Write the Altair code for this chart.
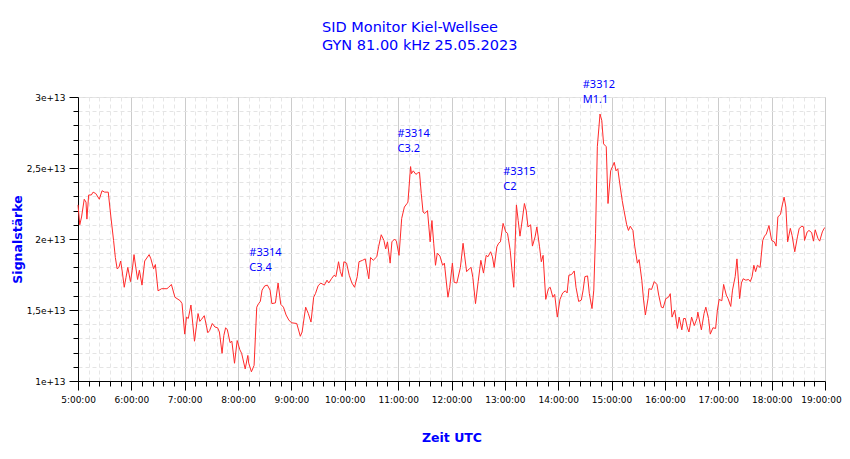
import altair as alt
import pandas as pd

# minutes after 05:00 UTC
minutes = [
    0, 2, 4, 7, 9, 10, 12, 15, 17, 20,
    24, 27, 30, 34, 37, 40, 42, 44, 46, 48,
    50, 52, 54, 56, 59, 61, 63, 65, 67, 69,
    72, 75, 80, 82, 85, 87, 90, 94, 100, 102,
    105, 109, 115, 117, 120, 122, 124, 127, 131, 135,
    137, 139, 142, 146, 148, 151, 154, 157, 159, 162,
    164, 166, 168, 171, 173, 176, 179, 182, 184, 188,
    191, 192, 195, 198, 201, 203, 205, 207, 210, 213,
    216, 218, 222, 225, 228, 231, 234, 237, 240, 246,
    250, 252, 256, 259, 262, 265, 267, 270, 273, 277,
    280, 282, 285, 288, 290, 293, 295, 297, 299, 302,
    305, 308, 311, 314, 316, 320, 323, 327, 329, 332,
    336, 338, 341, 344, 346, 348, 351, 353, 356, 358,
    361, 364, 367, 370, 371, 374, 375, 377, 380, 382,
    384, 386, 388, 390, 393, 396, 398, 400, 402, 404,
    407, 410, 412, 416, 418, 421, 423, 426, 430, 433,
    437, 440, 442, 444, 447, 450, 453, 456, 459, 461,
    464, 466, 468, 471, 473, 475, 478, 481, 483, 486,
    488, 490, 493, 495, 497, 500, 502, 504, 506, 509,
    511, 514, 516, 519, 521, 523, 526, 529, 531, 534,
    536, 539, 542, 545, 548, 550, 552, 555, 558, 560,
    563, 566, 568, 570, 573, 575, 578, 580, 582, 584,
    587, 589, 591, 594, 596, 599, 601, 603, 605, 607,
    609, 612, 614, 617, 619, 621, 624, 626, 629, 631,
    634, 636, 638, 641, 642, 645, 648, 651, 653, 656,
    658, 661, 664, 666, 668, 671, 674, 676, 679, 681,
    683, 685, 687, 690, 693, 696, 697, 701, 704, 706,
    709, 711, 714, 717, 719, 721, 724, 726, 729, 731,
    734, 736, 739, 741, 744, 746, 748, 751, 754, 756,
    758, 760, 762, 764, 767, 770, 772, 774, 777, 780,
    783, 785, 787, 790, 792, 794, 796, 798, 801, 803,
    806, 809, 811, 814, 816, 817, 820, 822, 825, 827,
    829, 832, 834, 837, 839, 840,
]

# signal strength in units of 1e13
signal = [
    2.24, 2.10, 2.155, 2.28, 2.26, 2.14, 2.31, 2.31, 2.33, 2.32,
    2.28, 2.34, 2.33, 2.33, 2.155, 1.99, 1.87, 1.79, 1.80, 1.845,
    1.76, 1.66, 1.73, 1.80, 1.70, 1.78, 1.89, 1.80, 1.715, 1.78,
    1.675, 1.845, 1.89, 1.86, 1.79, 1.82, 1.635, 1.65, 1.65, 1.66,
    1.68, 1.59, 1.565, 1.545, 1.33, 1.45, 1.44, 1.535, 1.28, 1.475,
    1.42, 1.435, 1.46, 1.34, 1.355, 1.405, 1.38, 1.375, 1.345, 1.195,
    1.32, 1.375, 1.36, 1.27, 1.28, 1.125, 1.285, 1.22, 1.195, 1.085,
    1.18, 1.125, 1.065, 1.11, 1.52, 1.545, 1.56, 1.64, 1.67, 1.675,
    1.64, 1.545, 1.55, 1.69, 1.54, 1.52, 1.465, 1.43, 1.41, 1.405,
    1.315, 1.345, 1.52, 1.475, 1.415, 1.59, 1.615, 1.67, 1.69, 1.675,
    1.71, 1.69, 1.72, 1.745, 1.735, 1.84, 1.77, 1.735, 1.84, 1.83,
    1.745, 1.69, 1.66, 1.735, 1.84, 1.85, 1.86, 1.72, 1.87, 1.85,
    1.875, 1.945, 2.03, 1.99, 1.93, 1.98, 1.83, 1.98, 2.00, 1.985,
    1.885, 2.145, 2.225, 2.25, 2.26, 2.51, 2.46, 2.48, 2.455, 2.465,
    2.47, 2.32, 2.19, 2.18, 2.20, 1.98, 2.13, 1.97, 1.815, 1.90,
    1.88, 1.815, 1.83, 1.59, 1.66, 1.83, 1.695, 1.69, 1.80, 1.97,
    1.77, 1.79, 1.80, 1.73, 1.545, 1.70, 1.85, 1.76, 1.885, 1.875,
    1.91, 1.875, 1.80, 1.945, 1.97, 1.98, 2.11, 2.05, 2.04, 1.92,
    1.78, 1.66, 2.24, 2.13, 2.02, 2.155, 2.25, 2.20, 2.085, 2.10,
    1.95, 2.015, 2.085, 1.945, 1.84, 1.885, 1.575, 1.65, 1.66, 1.59,
    1.61, 1.45, 1.575, 1.62, 1.635, 1.62, 1.745, 1.75, 1.775, 1.66,
    1.56, 1.57, 1.64, 1.735, 1.74, 1.615, 1.51, 1.64, 2.04, 2.65,
    2.88, 2.835, 2.67, 2.65, 2.25, 2.48, 2.51, 2.54, 2.48, 2.495,
    2.40, 2.27, 2.20, 2.10, 2.06, 2.09, 2.06, 1.95, 1.83, 1.855,
    1.71, 1.57, 1.465, 1.58, 1.65, 1.645, 1.70, 1.68, 1.605, 1.52,
    1.515, 1.58, 1.59, 1.615, 1.45, 1.50, 1.37, 1.45, 1.36, 1.44,
    1.44, 1.38, 1.345, 1.45, 1.39, 1.44, 1.485, 1.36, 1.475, 1.52,
    1.44, 1.33, 1.375, 1.37, 1.50, 1.575, 1.565, 1.68, 1.605, 1.58,
    1.525, 1.64, 1.735, 1.86, 1.58, 1.69, 1.72, 1.71, 1.715, 1.70,
    1.735, 1.815, 1.77, 1.815, 1.80, 1.99, 2.02, 2.035, 2.095, 1.99,
    1.98, 1.95, 2.155, 2.175, 2.24, 2.295, 2.225, 1.98, 2.075, 2.025,
    1.91, 2.015, 2.075, 2.09, 2.085, 1.99, 2.05, 2.06, 2.045, 1.985,
    2.065, 2.005, 1.985, 2.05, 2.075, 2.08,
]
assert len(minutes) == len(signal)

# flare annotations
ann_hour = [8.21, 10.99, 12.97, 14.46]
ann_signal = [1.945, 2.78, 2.512, 3.125]
ann_label = ["#3314\nC3.4", "#3314\nC3.2", "#3315\nC2", "#3312\nM1.1"]

title_lines = ["SID Monitor Kiel-Wellsee", "GYN 81.00 kHz 25.05.2023"]
x_title = "Zeit UTC"
y_title = "Signalstärke"

df = pd.DataFrame({
    "hour": [5 + m / 60 for m in minutes],
    "signal": [v * 1e13 for v in signal],
})
ann = pd.DataFrame({
    "hour": ann_hour,
    "signal": [v * 1e13 for v in ann_signal],
    "label": ann_label,
})

x_ticks = [round(5 + i * 0.2, 4) for i in range(71)]
y_ticks = [1e13 + i * 1e12 for i in range(21)]

x_major = "abs(datum.value - round(datum.value)) < 0.001"
y_major = "abs(datum.value / 5e12 - round(datum.value / 5e12)) < 1e-6"

x_axis = alt.Axis(
    values=x_ticks,
    title=x_title,
    labelExpr=f"{x_major} ? round(datum.value) + ':00:00' : ''",
    labelOverlap=False,
    labelFlush=False,
    labelFont="DejaVu Sans",
    labelFontSize=9,
    labelColor="#000000",
    labelPadding=5,
    labelOffset={"condition": {"test": "datum.value > 18.9", "value": -4}, "value": 0},
    tickSize={"condition": {"test": x_major, "value": 9}, "value": 5},
    tickColor="#000000",
    domainColor="#000000",
    grid=True,
    gridColor={"condition": {"test": x_major, "value": "#cccccc"}, "value": "#e6e6e6"},
    gridDash={"condition": {"test": x_major, "value": []}, "value": [4, 3]},
    gridWidth=1,
    titleFont="DejaVu Sans",
    titleFontSize=12.5,
    titleFontWeight="bold",
    titleColor="#0000ff",
    titleBaseline="middle",
    titleY=56,
)

y_axis = alt.Axis(
    values=y_ticks,
    title=y_title,
    labelExpr=f"{y_major} ? replace(format(datum.value / 1e13, '.1~f'), '.', ',') + 'e+13' : ''",
    labelOverlap=False,
    labelFlush=False,
    labelFont="DejaVu Sans",
    labelFontSize=9,
    labelColor="#000000",
    labelPadding=4,
    tickSize={"condition": {"test": y_major, "value": 9}, "value": 5},
    tickColor="#000000",
    domainColor="#000000",
    grid=True,
    gridColor="#e4e4e4",
    gridDash=[4, 3],
    gridWidth=1,
    titleFont="DejaVu Sans",
    titleFontSize=12.5,
    titleFontWeight="bold",
    titleColor="#0000ff",
    titleAngle=270,
    titleAlign="center",
    titleBaseline="middle",
    titleX=-61,
    titleY=142,
)

x_scale = alt.Scale(domain=[5, 19], nice=False, zero=False)
y_scale = alt.Scale(domain=[1e13, 3e13], nice=False, zero=False)

x_enc = alt.X("hour:Q", scale=x_scale, axis=x_axis)
y_enc = alt.Y("signal:Q", scale=y_scale, axis=y_axis)

line = alt.Chart(df).mark_line(color="#ff2a2a", strokeWidth=1).encode(
    x=x_enc, y=y_enc,
)

labels = alt.Chart(ann).mark_text(
    align="left", baseline="top", font="Noto Sans", fontSize=11,
    color="#0000ff", lineBreak="\n", lineHeight=15,
).encode(
    x=x_enc, y=y_enc, text="label:N",
)

chart = alt.layer(line, labels).properties(
    width=747,
    height=284,
    padding={"left": 70, "top": 89, "right": 17, "bottom": 68},
    autosize=alt.AutoSizeParams(type="none"),
    title=alt.TitleParams(
        text=title_lines,
        anchor="start",
        frame="group",
        dx=244,
        offset=26,
        font="DejaVu Sans",
        fontSize=14.5,
        fontWeight="normal",
        color="#0000ff",
        lineHeight=18,
    ),
).configure_view(strokeWidth=0).configure(background="white")

chart.save("out.html", embed_options={"renderer": "svg", "actions": False})
